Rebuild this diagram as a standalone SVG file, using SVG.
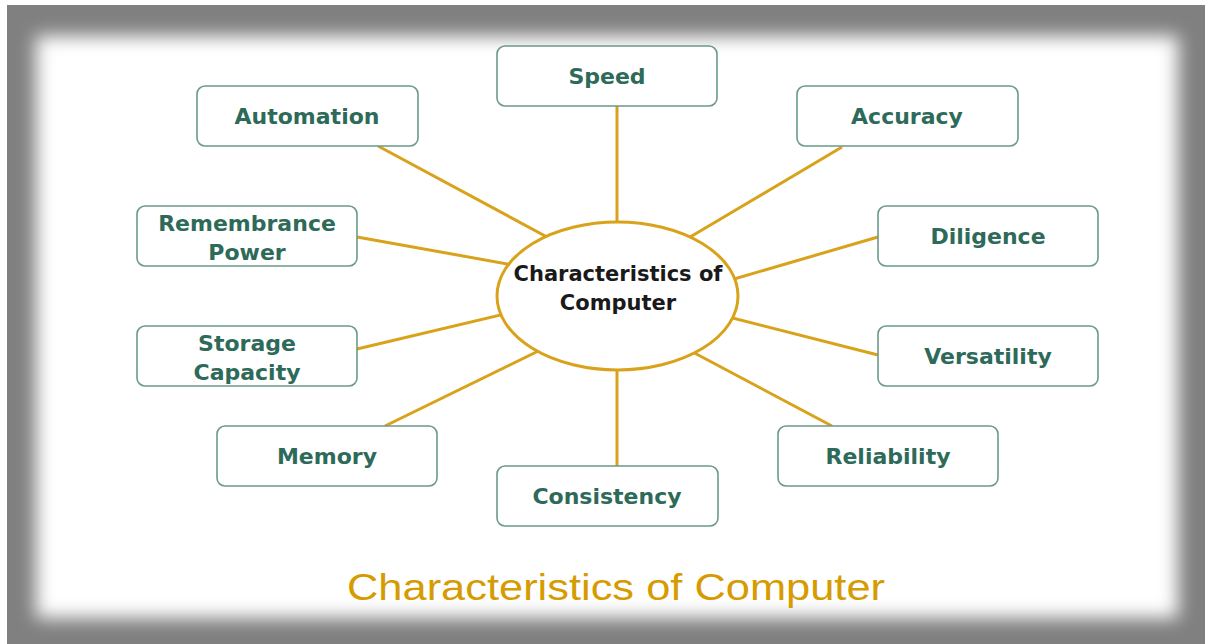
<svg xmlns="http://www.w3.org/2000/svg" width="1205" height="644" viewBox="0 0 1205 644">
  <defs>
    <filter id="soft" x="-5%" y="-5%" width="110%" height="110%">
      <feGaussianBlur stdDeviation="9"/>
    </filter>
  </defs>
  <style>
    .box rect { fill: #ffffff; stroke: #6b998b; stroke-width: 1.6; }
    .box text { font-family: "DejaVu Sans", Verdana, sans-serif; font-weight: bold; font-size: 22px; fill: #2e6a59; text-anchor: middle; }
    .link { stroke: #d9a21b; stroke-width: 3; fill: none; }
    .hub ellipse { fill: #ffffff; stroke: #d9a21b; stroke-width: 3; }
    .hub text { font-family: "DejaVu Sans", Verdana, sans-serif; font-weight: bold; font-size: 21px; fill: #1a1a1a; text-anchor: middle; }
    .title { font-family: "Liberation Sans", Arial, sans-serif; font-size: 37px; fill: #d69b00; }
  </style>

  <!-- framed backdrop -->
  <rect x="0" y="0" width="1205" height="644" fill="#ffffff"/>
  <rect x="7" y="5" width="1198" height="639" fill="#808080"/>
  <rect x="36" y="36" width="1142" height="582" fill="#ffffff" filter="url(#soft)"/>

  <!-- connectors -->
  <g id="connectors">
    <line class="link" x1="617" y1="106" x2="617" y2="240"/>
    <line class="link" x1="378" y1="146" x2="560" y2="244"/>
    <line class="link" x1="842" y1="147" x2="680" y2="243"/>
    <line class="link" x1="357" y1="237" x2="530" y2="268"/>
    <line class="link" x1="878" y1="237" x2="710" y2="286"/>
    <line class="link" x1="357" y1="349" x2="530" y2="308"/>
    <line class="link" x1="878" y1="355" x2="705" y2="311"/>
    <line class="link" x1="385" y1="426" x2="565" y2="338"/>
    <line class="link" x1="832" y1="426" x2="670" y2="340"/>
    <line class="link" x1="617" y1="350" x2="617" y2="466"/>
  </g>

  <!-- central node -->
  <g id="hub" class="hub">
    <ellipse cx="617.5" cy="296" rx="120.5" ry="74"/>
    <text x="618" y="281">Characteristics of</text>
    <text x="618" y="310">Computer</text>
  </g>

  <!-- characteristic nodes -->
  <g id="speed" class="box">
    <rect x="497" y="46" width="220" height="60" rx="8"/>
    <text x="607" y="84">Speed</text>
  </g>
  <g id="automation" class="box">
    <rect x="197" y="86" width="221" height="60" rx="8"/>
    <text x="307" y="124">Automation</text>
  </g>
  <g id="accuracy" class="box">
    <rect x="797" y="86" width="221" height="60" rx="8"/>
    <text x="907" y="124">Accuracy</text>
  </g>
  <g id="remembrance-power" class="box">
    <rect x="137" y="206" width="220" height="60" rx="8"/>
    <text x="247" y="231">Remembrance</text>
    <text x="247" y="260">Power</text>
  </g>
  <g id="diligence" class="box">
    <rect x="878" y="206" width="220" height="60" rx="8"/>
    <text x="988" y="244">Diligence</text>
  </g>
  <g id="storage-capacity" class="box">
    <rect x="137" y="326" width="220" height="60" rx="8"/>
    <text x="247" y="351">Storage</text>
    <text x="247" y="380">Capacity</text>
  </g>
  <g id="versatility" class="box">
    <rect x="878" y="326" width="220" height="60" rx="8"/>
    <text x="988" y="364">Versatility</text>
  </g>
  <g id="memory" class="box">
    <rect x="217" y="426" width="220" height="60" rx="8"/>
    <text x="327" y="464">Memory</text>
  </g>
  <g id="reliability" class="box">
    <rect x="778" y="426" width="220" height="60" rx="8"/>
    <text x="888" y="464">Reliability</text>
  </g>
  <g id="consistency" class="box">
    <rect x="497" y="466" width="221" height="60" rx="8"/>
    <text x="607" y="504">Consistency</text>
  </g>

  <!-- caption -->
  <text class="title" x="347" y="600" textLength="538" lengthAdjust="spacingAndGlyphs">Characteristics of Computer</text>
</svg>
